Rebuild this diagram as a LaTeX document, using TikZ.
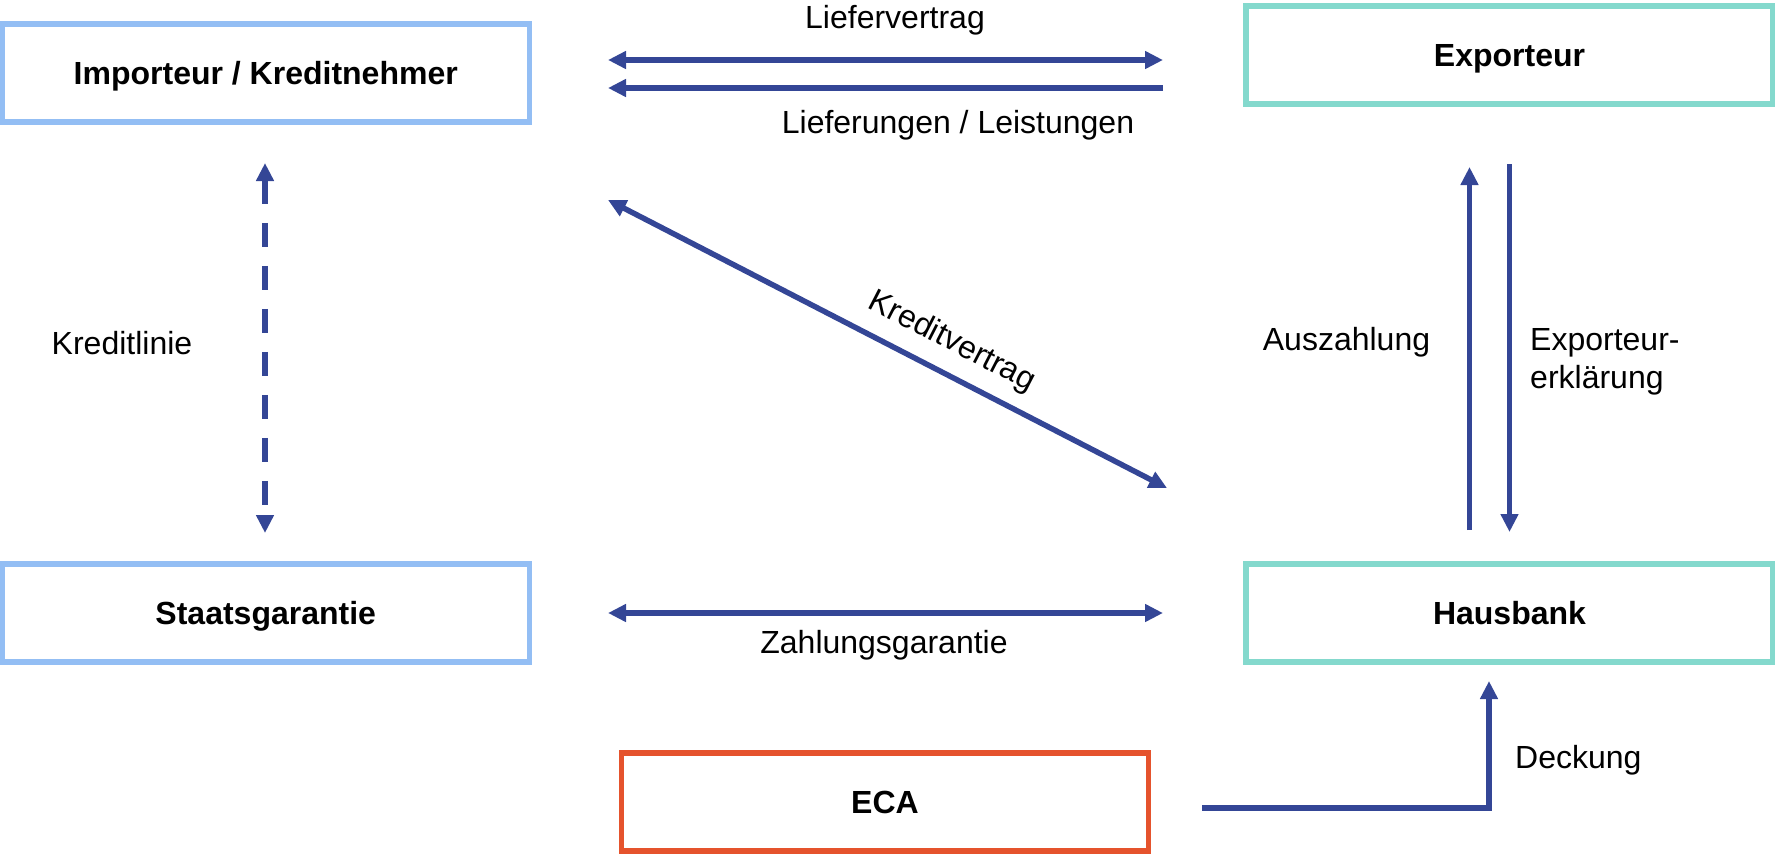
\documentclass[tikz,border=0pt]{standalone}
\usepackage{fontspec}
\setmainfont{Liberation Sans}
\usetikzlibrary{arrows.meta}
\definecolor{boxblue}{HTML}{93BEF4}
\definecolor{boxteal}{HTML}{84D9CD}
\definecolor{boxred}{HTML}{E5532D}
\definecolor{arrblue}{HTML}{344696}
\tikzset{
  boxst/.style={draw, line width=5.5pt, minimum width=527pt, minimum height=98pt,
    inner sep=0pt, outer sep=0pt, fill=white, text height=23pt, text depth=0pt,
    font=\fontsize{32}{38}\selectfont\bfseries},
  lab/.style={inner sep=0pt, font=\fontsize{32}{38}\selectfont},
  arr/.style={draw=arrblue, line width=5.5pt,
    arrows={-{Triangle[length=18pt,width=17pt]}}},
  darr/.style={draw=arrblue, line width=5.5pt,
    arrows={{Triangle[length=18pt,width=17pt]}-{Triangle[length=18pt,width=17pt]}}},
}
\begin{document}
\begin{tikzpicture}[x=1pt,y=-1pt]
\useasboundingbox (0,0) rectangle (1775,854);
% boxes
\node[boxst, draw=boxblue] (imp) at (265.75,73) {Importeur / Kreditnehmer};
\node[boxst, draw=boxblue] (sta) at (265.75,613) {Staatsgarantie};
\node[boxst, draw=boxteal] (exp) at (1509.5,55) {Exporteur};
\node[boxst, draw=boxteal] (hau) at (1509.5,613) {Hausbank};
\node[boxst, draw=boxred] (eca) at (885,802) {ECA};
% connector end points
\coordinate (lva) at (608,60);
\coordinate (lvb) at (1163,60);
\coordinate (lla) at (1163,88);
\coordinate (llb) at (608,88);
\coordinate (kla) at (265,163);
\coordinate (klb) at (265,533);
\coordinate (kva) at (608,200);
\coordinate (kvb) at (1167,488);
\coordinate (aza) at (1469.5,530);
\coordinate (azb) at (1469.5,167);
\coordinate (eea) at (1509.5,164);
\coordinate (eeb) at (1509.5,532);
\coordinate (zga) at (608,613);
\coordinate (zgb) at (1163,613);
\coordinate (dea) at (1202,808);
\coordinate (deb) at (1489,681);
% connectors
\draw[darr] (lva) -- (lvb);
\draw[arr] (lla) -- (llb);
\draw[darr, dash pattern=on 24pt off 19pt] (kla) -- (klb);
\draw[darr] (kva) -- (kvb);
\draw[arr] (aza) -- (azb);
\draw[arr] (eea) -- (eeb);
\draw[darr] (zga) -- (zgb);
\draw[arr] (dea) -| (deb);
% labels
\node[lab, anchor=base] (t1) at (895,28) {Liefervertrag};
\node[lab, anchor=base] (t2) at (958,133) {Lieferungen / Leistungen};
\node[lab, anchor=base] (t3) at (122,354) {Kreditlinie};
\node[lab, rotate=-27.25] (t4) at (952,342) {Kreditvertrag};
\node[lab, anchor=base] (t5) at (1346.5,350) {Auszahlung};
\node[lab, anchor=base west] (t6) at (1530,350) {Exporteur-};
\node[lab, anchor=base west] (t7) at (1530,388) {erklärung};
\node[lab, anchor=base] (t8) at (884,653) {Zahlungsgarantie};
\node[lab, anchor=base west] (t9) at (1515,768) {Deckung};
\end{tikzpicture}
\end{document}
